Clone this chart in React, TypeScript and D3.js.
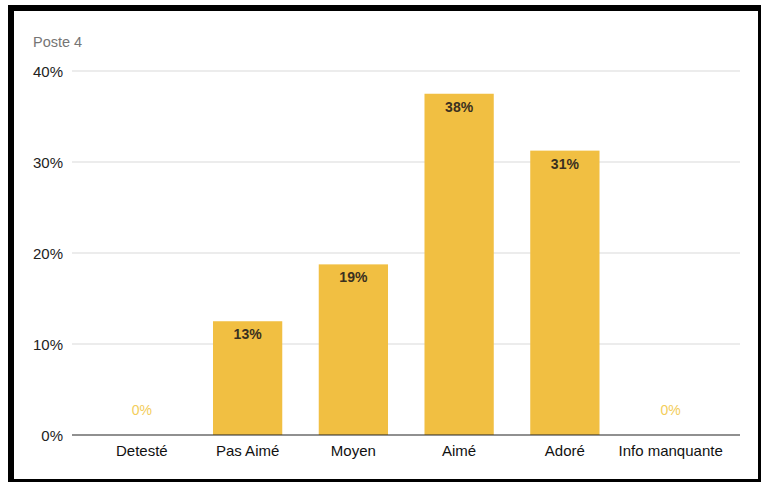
import React from "react";
import * as d3 from "d3";

const categories = ["Detesté", "Pas Aimé", "Moyen", "Aimé", "Adoré", "Info manquante"];
const values = [0, 0.125, 0.1875, 0.375, 0.3125, 0];
const yTicks = [0, 0.1, 0.2, 0.3, 0.4];
const title = "Poste 4";

export default function App() {
  const W = 762, H = 483;
  const x = d3.scaleBand().domain(categories).range([89, 723.5]).paddingInner(0.345).paddingOuter(0.1725);
  const y = d3.scaleLinear().domain([0, 0.4]).range([435, 71]);
  const fmt = d3.format(".0%");
  const font = "'Liberation Sans', Arial, sans-serif";
  return (
    <svg width={W} height={H} style={{ position: "absolute", left: 0, top: 0 }} fontFamily={font}>
      <rect x={8} y={5} width={753} height={477} fill="#000" />
      <rect x={14} y={11} width={744} height={468} fill="#fff" />
      <text x={33} y={47} fontSize={14.5} fill="#757575">{title}</text>
      {yTicks.map((t) => (
        <g key={t}>
          {t > 0 && <line x1={72} x2={740} y1={y(t)} y2={y(t)} stroke="#d9d9d9" strokeWidth={1} />}
          <text x={63} y={y(t) + 5.5} fontSize={15} fill="#222" textAnchor="end">{fmt(t)}</text>
        </g>
      ))}
      {categories.map((c, i) => {
        const v = values[i];
        const cx = (x(c) as number) + x.bandwidth() / 2;
        return (
          <g key={c}>
            {v > 0 && (
              <rect x={x(c)} y={y(v)} width={x.bandwidth()} height={y(0) - y(v)} fill="#f1bf42" />
            )}
            <text
              x={cx}
              y={v > 0 ? y(v) + 18 : y(0) - 20}
              fontSize={14}
              textAnchor="middle"
              fill={v > 0 ? "#3a3020" : "#f3cd5a"}
              fontWeight={v > 0 ? "bold" : "normal"}
            >
              {fmt(v)}
            </text>
            <text x={cx} y={456} fontSize={15} textAnchor="middle" fill="#111">{c}</text>
          </g>
        );
      })}
      <line x1={72} x2={740} y1={y(0)} y2={y(0)} stroke="#222" strokeWidth={1.2} />
    </svg>
  );
}
